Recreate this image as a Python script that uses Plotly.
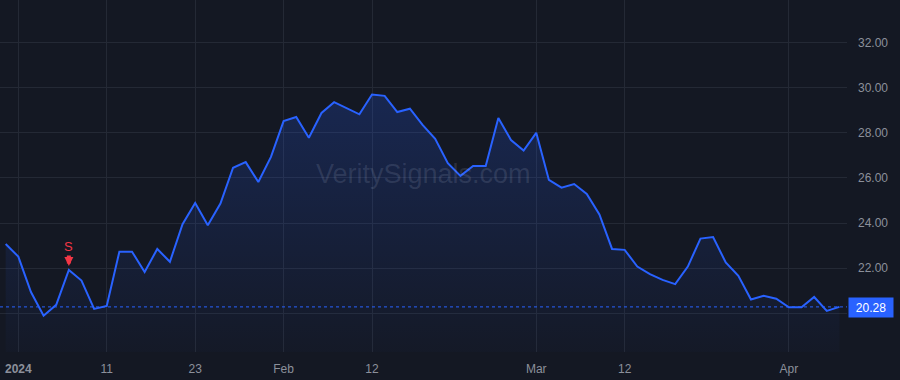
import plotly.graph_objects as go

dates = [
    "2023-12-29",
    "2024-01-02", "2024-01-03", "2024-01-04", "2024-01-05", "2024-01-08", "2024-01-09",
    "2024-01-10", "2024-01-11", "2024-01-12", "2024-01-16", "2024-01-17", "2024-01-18",
    "2024-01-19", "2024-01-22", "2024-01-23", "2024-01-24", "2024-01-25", "2024-01-26",
    "2024-01-29", "2024-01-30", "2024-01-31",
    "2024-02-01", "2024-02-02", "2024-02-05", "2024-02-06", "2024-02-07", "2024-02-08",
    "2024-02-09", "2024-02-12", "2024-02-13", "2024-02-14", "2024-02-15", "2024-02-16",
    "2024-02-20", "2024-02-21", "2024-02-22", "2024-02-23", "2024-02-26", "2024-02-27",
    "2024-02-28", "2024-02-29",
    "2024-03-01", "2024-03-04", "2024-03-05", "2024-03-06", "2024-03-07", "2024-03-08",
    "2024-03-11", "2024-03-12", "2024-03-13", "2024-03-14", "2024-03-15", "2024-03-18",
    "2024-03-19", "2024-03-20", "2024-03-21", "2024-03-22", "2024-03-25", "2024-03-26",
    "2024-03-27", "2024-03-28",
    "2024-04-01", "2024-04-02", "2024-04-03", "2024-04-04", "2024-04-05",
]

values = [
    23.07,
    22.51, 20.94, 19.89, 20.37, 21.92, 21.45,
    20.19, 20.32, 22.73, 22.73, 21.83, 22.85,
    22.28, 23.95, 24.89, 23.90, 24.86, 26.45,
    26.70, 25.82, 26.93,
    28.52, 28.70, 27.78, 28.88, 29.36, 29.10,
    28.82, 29.70, 29.64, 28.92, 29.07, 28.35,
    27.73, 26.65, 26.09, 26.53, 26.53, 28.66,
    27.68, 27.21,
    28.00, 25.91, 25.57, 25.73, 25.29, 24.38,
    22.85, 22.81, 22.07, 21.73, 21.48, 21.29,
    22.07, 23.31, 23.38, 22.25, 21.66, 20.61,
    20.77, 20.64,
    20.26, 20.26, 20.72, 20.10, 20.28,
]

tick_dates = ["2024-01-02", "2024-01-11", "2024-01-23", "2024-02-01",
              "2024-02-12", "2024-03-01", "2024-03-12", "2024-04-01"]
tick_labels = ["<b>2024</b>", "11", "23", "Feb", "12", "Mar", "12", "Apr"]

y_ticks = [20, 22, 24, 26, 28, 30, 32]

signal_date = "2024-01-08"
signal_value = 21.92
signal_text = "S"

last_value = values[-1]

BG = "#141823"
GRID = "#242935"
BLUE = "#2962ff"
RED = "#f23645"
LABEL = "#8c909b"
FONT = "Liberation Sans, Arial, sans-serif"

fig = go.Figure()
fig.add_trace(go.Scatter(
    x=dates, y=values, mode="lines",
    line=dict(color=BLUE, width=2),
    fill="tozeroy",
    fillgradient=dict(
        type="vertical", start=18.3, stop=30.5,
        colorscale=[[0, "rgba(41,98,255,0.02)"], [1, "rgba(41,98,255,0.22)"]],
    ),
    hoverinfo="skip",
    showlegend=False,
))

fig.add_shape(type="line", xref="paper", x0=0, x1=1, yref="y",
              y0=last_value, y1=last_value,
              line=dict(color=BLUE, width=1, dash="dot"))

fig.add_annotation(
    x=1, xref="paper", xanchor="left", xshift=1,
    y=last_value, yref="y", yanchor="middle", yshift=-1,
    text=f"{last_value:.2f}", showarrow=False,
    bgcolor=BLUE, width=42, height=17,
    font=dict(color="white", size=12, family=FONT),
)

# signal arrow (shaft + head) and label
fig.add_annotation(
    x=signal_date, y=signal_value, xref="x", yref="y",
    text="", showarrow=True,
    ax=0, ay=-16, arrowhead=2, arrowsize=0.45, arrowwidth=4,
    arrowcolor=RED, standoff=4,
)
fig.add_annotation(
    x=signal_date, y=signal_value, xref="x", yref="y",
    text=signal_text, showarrow=False, yshift=23,
    font=dict(color=RED, size=13, family=FONT),
)

fig.add_annotation(
    x=0.5, y=0.505, xref="paper", yref="paper",
    text="VeritySignals.com", showarrow=False,
    font=dict(color="rgba(170,180,205,0.16)", size=27, family=FONT),
)

fig.update_layout(
    width=900, height=380,
    margin=dict(l=0, r=53, t=0, b=28),
    paper_bgcolor=BG, plot_bgcolor=BG,
    font=dict(family=FONT, color=LABEL, size=12),
    xaxis=dict(
        type="category", range=[-0.45, 66.6],
        tickmode="array", tickvals=tick_dates, ticktext=tick_labels,
        showgrid=True, gridcolor=GRID, gridwidth=1,
        zeroline=False, showline=False, ticks="",
        ticklabelstandoff=8,
        tickfont=dict(color=LABEL, size=12),
    ),
    yaxis=dict(
        side="right", range=[18.28, 33.89],
        tickmode="array", tickvals=y_ticks,
        tickformat=".2f",
        showgrid=True, gridcolor=GRID, gridwidth=1,
        zeroline=False, showline=False, ticks="",
        ticklabelstandoff=10,
        tickfont=dict(color=LABEL, size=12),
    ),
)

fig.write_html("out.html")
